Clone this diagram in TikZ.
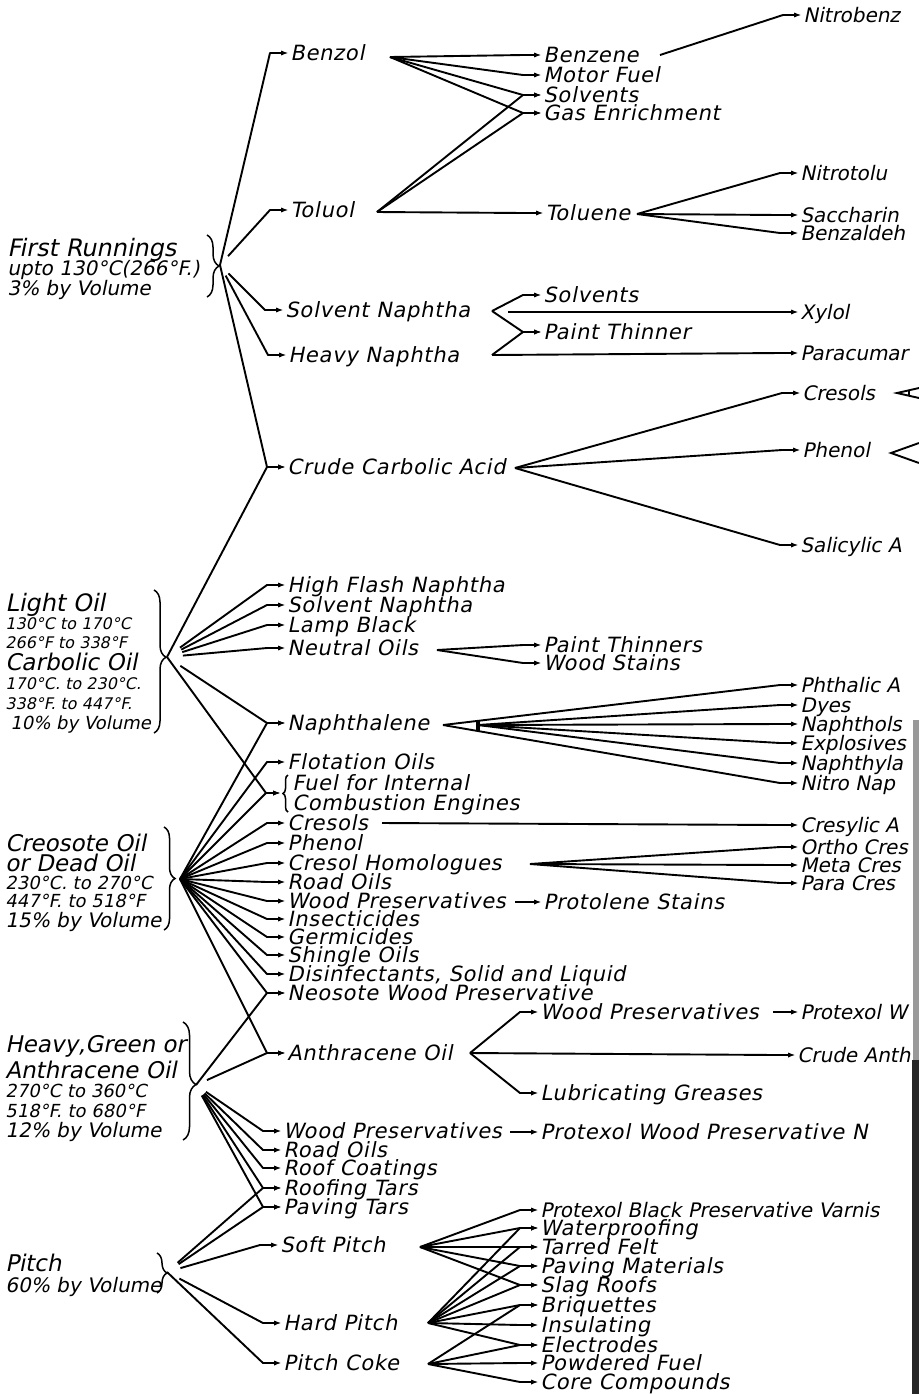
\documentclass[tikz,border=0pt]{standalone}
\usepackage{fontspec}
\newfontfamily\lettering[FakeSlant=0.2,LetterSpace=3.5]{DejaVu Sans}
\newfontfamily\tagfont[FakeSlant=0.2]{DejaVu Sans}
\usetikzlibrary{arrows.meta,decorations.pathreplacing}

\tikzset{
  item/.style={anchor=west,inner sep=0pt,text height=7.65pt,text depth=0pt,font=\lettering\fontsize{10.5}{12}\selectfont},
  itemedge/.style={item,text height=7.3pt,font=\tagfont\fontsize{10}{12}\selectfont},
  lab/.style={anchor=base west,inner sep=0pt,font=\tagfont\fontsize{#1}{#1}\selectfont},
  feed/.style={line width=0.95pt,line join=round,-{Latex[length=3.6pt,width=2.6pt]},shorten >=0.8pt},
  rule/.style={line width=0.95pt},
  curly/.style={line width=0.75pt,decorate,decoration={brace,amplitude=#1}},
}

\begin{document}
\begin{tikzpicture}[x=0.5pt,y=-0.5pt]
\clip (0,0) rectangle (919,1394);
\fill[white] (0,0) rectangle (919,1394);
% scan edge
\fill[black!40] (913,720) rectangle (919,1060);
\fill[black!85] (912,1060) rectangle (919,1394);

% fractions
\node[lab=12] (fra) at (7,256) {First Runnings};
\node[lab=10] (frb) at (7,275) {upto 130°C(266°F.)};
\node[lab=10] (frc) at (7,295) {3\% by Volume};
\draw[curly=6pt] (207,235) -- (207,297);

\node[lab=12] (loa) at (5,611) {Light Oil};
\node[lab=8] (lob) at (5,629) {130°C to 170°C};
\node[lab=8] (loc) at (5,648) {266°F to 338°F};
\node[lab=11.5] (lod) at (5,670) {Carbolic Oil};
\node[lab=8] (loe) at (5,689) {170°C. to 230°C.};
\node[lab=8] (lof) at (5,709) {338°F. to 447°F.};
\node[lab=9] (log) at (10,729) {10\% by Volume};
\draw[curly=6pt,decoration={aspect=0.47}] (154,590) -- (154,733);

\node[lab=11.5] (coa) at (5,851) {Creosote Oil};
\node[lab=11.5] (cob) at (5,871) {or Dead Oil};
\node[lab=9] (coc) at (5,889) {230°C. to 270°C};
\node[lab=9] (cod) at (5,907) {447°F. to 518°F};
\node[lab=10] (coe) at (5,927) {15\% by Volume};
\draw[curly=5.5pt] (164,827) -- (164,930);

\node[lab=11.5] (hoa) at (5,1052) {Heavy,Green or};
\node[lab=11.5] (hob) at (5,1078) {Anthracene Oil};
\node[lab=9] (hoc) at (5,1097) {270°C to 360°C};
\node[lab=9] (hod) at (5,1117) {518°F. to 680°F};
\node[lab=10] (hoe) at (5,1137) {12\% by Volume};
\draw[curly=6.5pt,decoration={aspect=0.53}] (183,1022) -- (183,1140);

\node[lab=11.5] (pia) at (5,1271) {Pitch};
\node[lab=10] (pib) at (5,1292) {60\% by Volume};
\draw[curly=5pt] (157,1253) -- (157,1293);

\coordinate (fr) at (220,265);
\coordinate (lo) at (167,657);
\coordinate (co) at (180,879);
\coordinate (ho) at (196,1085);
\coordinate (pi) at (167,1272);

% products, first column
\foreach \nm/\tx/\xx/\yy in {
  benzol/Benzol/290/53, toluol/Toluol/290/210,
  solvnaph/Solvent Naphtha/285/310, heavynaph/Heavy Naphtha/288/355,
  crudecarb/Crude Carbolic Acid/287/467,
  highflash/High Flash Naphtha/287/585, solvnaphb/Solvent Naphtha/287/605,
  lampblack/Lamp Black/287/625, neutral/Neutral Oils/287/648,
  naphthalene/Naphthalene/287/723, flotation/Flotation Oils/287/762,
  fuela/Fuel for Internal/292/783, fuelb/Combustion Engines/292/803,
  cresols/Cresols/287/823, phenol/Phenol/287/843,
  homol/Cresol Homologues/287/863, roadoils/Road Oils/287/882,
  woodpres/Wood Preservatives/287/901, insect/Insecticides/287/919,
  germ/Germicides/287/937, shingle/Shingle Oils/287/955,
  disinf/{Disinfectants, Solid and Liquid}/287/974,
  neosote/Neosote Wood Preservative/287/993, anthoil/Anthracene Oil/287/1053,
  woodpresb/Wood Preservatives/283/1131, roadoilsb/Road Oils/283/1150,
  roofcoat/Roof Coatings/283/1168, rooftars/Roofing Tars/283/1188,
  pavtars/Paving Tars/283/1207, softpitch/Soft Pitch/280/1245,
  hardpitch/Hard Pitch/283/1323, pitchcoke/Pitch Coke/283/1363}
  \node[item] (\nm) at (\xx,\yy) {\tx};
\draw[curly=2.5pt] (288,812) -- (288,775);
\coordinate (fueltip) at (282,793);

% products, second column
\foreach \nm/\tx/\xx/\yy in {
  benzene/Benzene/543/55, motorfuel/Motor Fuel/543/75,
  solvents/Solvents/543/95, gasenr/Gas Enrichment/543/113,
  toluene/Toluene/545/213, solventsb/Solvents/543/295,
  paint/Paint Thinner/543/332, paintthin/Paint Thinners/543/645,
  woodstains/Wood Stains/543/663, protolene/Protolene Stains/543/902,
  woodpresc/Wood Preservatives/540/1012, lubric/Lubricating Greases/540/1093,
  protexolwood/Protexol Wood Preservative N/540/1132,
  waterproof/Waterproofing/540/1228, tarred/Tarred Felt/540/1247,
  pavmat/Paving Materials/540/1266, slag/Slag Roofs/540/1285,
  briq/Briquettes/540/1305, insul/Insulating/540/1325,
  electro/Electrodes/540/1345, powdered/Powdered Fuel/540/1363,
  core/Core Compounds/540/1382}
  \node[item] (\nm) at (\xx,\yy) {\tx};
\node[itemedge] (protexolblack) at (540,1210) {Protexol Black Preservative Varnis};

% products, third column (cut by the page edge)
\foreach \nm/\tx/\xx/\yy in {
  nitrobenz/Nitrobenz/803/15, nitrotolu/Nitrotolu/800/173,
  saccharin/Saccharin/800/215, benzald/Benzaldeh/800/233,
  xylol/Xylol/800/312, paracumar/Paracumar/800/353,
  cresolsb/Cresols/802/393, phenolb/Phenol/802/450,
  salicylic/Salicylic A/800/545, phthalic/Phthalic A/800/685,
  dyes/Dyes/800/705, naphthols/Naphthols/800/724,
  explosives/Explosives/800/743, naphthyla/Naphthyla/800/763,
  nitronap/Nitro Nap/800/783, cresylic/Cresylic A/800/825,
  ortho/Ortho Cres/800/847, meta/Meta Cres/800/865,
  para/Para Cres/800/883, protexolw/Protexol W/800/1012,
  crudeanth/Crude Anth/797/1055}
  \node[itemedge] (\nm) at (\xx,\yy) {\tx};

% fan points
\coordinate (benzolfan) at (390,57);
\coordinate (toluolfan) at (377,212);
\coordinate (benzenefan) at (660,55);
\coordinate (toluenefan) at (637,214);
\coordinate (solvfan) at (492,311);
\coordinate (solvfanb) at (508,312);
\coordinate (heavyfan) at (492,355);
\coordinate (carbfan) at (515,468);
\coordinate (neutralfan) at (437,650);
\coordinate (naphfan) at (443,725);
\coordinate (naphfanb) at (478,725);
\coordinate (cresolsfan) at (382,823);
\coordinate (homolfan) at (530,864);
\coordinate (woodfan) at (515,902);
\coordinate (anthfan) at (470,1053);
\coordinate (woodfanb) at (773,1012);
\coordinate (woodfanc) at (510,1132);
\coordinate (softfan) at (420,1247);
\coordinate (hardfan) at (428,1323);
\coordinate (cokefan) at (428,1364);
\coordinate (cresolsend) at (897,393);
\coordinate (cresolsup) at (919,388);
\coordinate (cresolsdn) at (919,398);
\coordinate (phenolend) at (891,453);
\coordinate (phenolup) at (919,443);
\coordinate (phenoldn) at (919,463);

% from the fractions
\foreach \nm in {benzol,crudecarb}
  \draw[feed] (fr) -- ([xshift=-10pt]\nm.west) -- (\nm.west);
\foreach \nm in {toluol,solvnaph,heavynaph}
  \draw[feed,shorten <=6pt] (fr) -- ([xshift=-10pt]\nm.west) -- (\nm.west);
\draw[feed] (lo) -- ([xshift=-10pt]crudecarb.west) -- (crudecarb.west);
\foreach \nm in {highflash,solvnaphb,lampblack,neutral,naphthalene}
  \draw[feed,shorten <=8pt] (lo) -- ([xshift=-10pt]\nm.west) -- (\nm.west);
\draw[feed] (lo) -- ([xshift=-8pt]fueltip) -- (fueltip);
\foreach \nm in {naphthalene,flotation,cresols,phenol,homol,roadoils,woodpres,insect,germ,shingle,disinf,neosote,anthoil}
  \draw[feed] (co) -- ([xshift=-10pt]\nm.west) -- (\nm.west);
\draw[feed] (co) -- ([xshift=-8pt]fueltip) -- (fueltip);
\draw[feed] (ho) -- ([xshift=-10pt]neosote.west) -- (neosote.west);
\foreach \nm in {anthoil,woodpresb,roadoilsb,roofcoat,rooftars,pavtars}
  \draw[feed,shorten <=6pt] (ho) -- ([xshift=-10pt]\nm.west) -- (\nm.west);
\draw[feed] (pi) -- ([xshift=-10pt]pitchcoke.west) -- (pitchcoke.west);
\foreach \nm in {rooftars,pavtars,softpitch,hardpitch}
  \draw[feed,shorten <=7pt] (pi) -- ([xshift=-10pt]\nm.west) -- (\nm.west);

% second and third steps
\foreach \src/\nm in {benzolfan/benzene, benzolfan/motorfuel, benzolfan/solvents,
  benzolfan/gasenr, toluolfan/solvents, toluolfan/gasenr, toluolfan/toluene,
  benzenefan/nitrobenz, toluenefan/nitrotolu, toluenefan/saccharin, toluenefan/benzald,
  solvfan/solventsb, solvfan/paint, solvfanb/xylol, heavyfan/paint, heavyfan/paracumar,
  carbfan/cresolsb, carbfan/phenolb, carbfan/salicylic,
  neutralfan/paintthin, neutralfan/woodstains,
  naphfan/phthalic, naphfanb/dyes, naphfanb/naphthols, naphfanb/explosives,
  naphfanb/naphthyla, naphfan/nitronap, cresolsfan/cresylic,
  homolfan/ortho, homolfan/meta, homolfan/para, woodfan/protolene,
  anthfan/woodpresc, anthfan/crudeanth, anthfan/lubric,
  woodfanb/protexolw, woodfanc/protexolwood,
  softfan/protexolblack, softfan/waterproof, softfan/tarred, softfan/pavmat, softfan/slag,
  hardfan/waterproof, hardfan/tarred, hardfan/pavmat, hardfan/slag,
  hardfan/briq, hardfan/insul, hardfan/electro,
  cokefan/briq, cokefan/electro, cokefan/powdered, cokefan/core}
  \draw[feed] (\src) -- ([xshift=-10pt]\nm.west) -- (\nm.west);
\draw[line width=1.6pt] (478,720.5) -- (478,730.5);
\draw[rule] (cresolsup) -- (cresolsend) -- (cresolsdn);
\draw[line width=1.4pt] (909,390.5) -- (909,395.5);
\draw[rule] (phenolup) -- (phenolend) -- (phenoldn);
\end{tikzpicture}
\end{document}
